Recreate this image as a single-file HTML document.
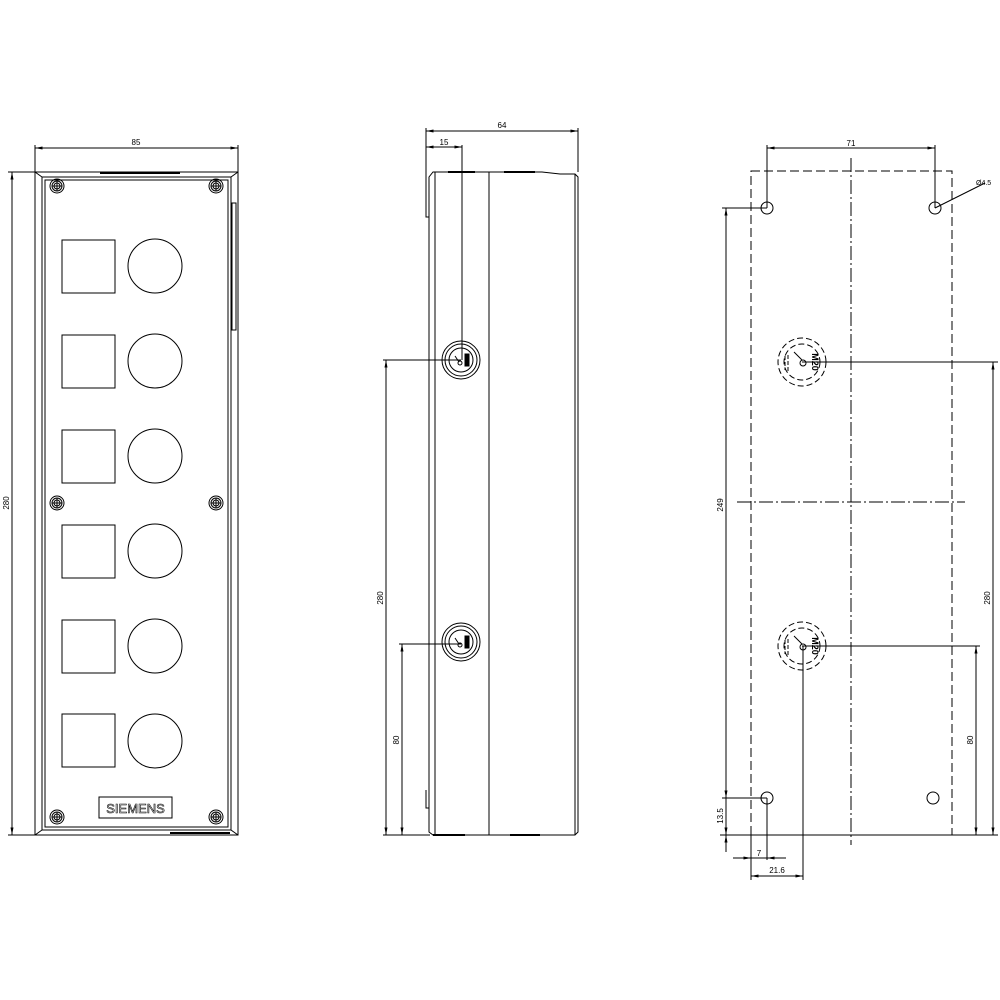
<!DOCTYPE html>
<html><head><meta charset="utf-8"><style>html,body{margin:0;padding:0;background:#fff}svg{display:block}</style></head><body>
<svg width="1000" height="1000" viewBox="0 0 1000 1000" xmlns="http://www.w3.org/2000/svg" font-family="Liberation Sans, sans-serif" font-size="8" fill="none" stroke="#000" stroke-width="1">
<defs>
<marker id="a" viewBox="0 0 10 4" refX="10" refY="2" markerWidth="8" markerHeight="3" orient="auto-start-reverse" markerUnits="userSpaceOnUse"><path d="M0 0L10 2L0 4Z" fill="#000" stroke="none"/></marker>
<g id="scr"><circle r="7"/><circle r="5"/><circle r="3"/><path d="M-5 0H5M0 -5V5"/></g>
<g id="gl"><circle r="19"/><circle r="16"/><circle r="12"/><path d="M-6 -4L-2 2"/><circle cx="-1" cy="3" r="2"/><rect x="4" y="-6" width="4" height="12" fill="#000"/></g>
<g id="gl2"><circle r="24" stroke-dasharray="6 3"/><circle r="18" stroke-dasharray="6 3"/><path d="M-8 -10L0 -2"/><circle cx="1" cy="1" r="3"/><path d="M-17 -6V8M-14 -7V9" stroke-dasharray="4 2"/></g>
</defs>
<!-- FRONT VIEW -->
<path d="M35 145V172M238 145V172"/>
<line x1="35" y1="148" x2="238" y2="148" marker-start="url(#a)" marker-end="url(#a)"/>
<text x="136" y="145" fill="#000" stroke="none" text-anchor="middle">85</text>
<path d="M8 172H35M8 835H35"/>
<line x1="12" y1="172" x2="12" y2="835" marker-start="url(#a)" marker-end="url(#a)"/>
<text transform="translate(9,503) rotate(-90)" fill="#000" stroke="none" text-anchor="middle">280</text>
<rect x="35" y="172" width="203" height="663"/>
<rect x="42" y="177" width="189" height="653"/>
<rect x="45" y="180" width="183" height="647"/>
<path d="M35 172L42 177M238 172L231 177M35 835L42 830M238 835L231 830"/>
<path d="M100 173H180" stroke-width="2"/>
<path d="M170 833H230" stroke-width="2"/>
<rect x="232" y="203" width="4" height="127"/>
<g>
<rect x="62" y="240" width="53" height="53"/><circle cx="155" cy="266" r="27"/>
<rect x="62" y="335" width="53" height="53"/><circle cx="155" cy="361" r="27"/>
<rect x="62" y="430" width="53" height="53"/><circle cx="155" cy="456" r="27"/>
<rect x="62" y="525" width="53" height="53"/><circle cx="155" cy="551" r="27"/>
<rect x="62" y="620" width="53" height="53"/><circle cx="155" cy="646" r="27"/>
<rect x="62" y="714" width="53" height="53"/><circle cx="155" cy="741" r="27"/>
</g>
<use href="#scr" x="57" y="186"/><use href="#scr" x="216" y="186"/>
<use href="#scr" x="57" y="503"/><use href="#scr" x="216" y="503"/>
<use href="#scr" x="57" y="817"/><use href="#scr" x="216" y="817"/>
<rect x="99" y="797" width="73" height="21"/>
<text x="135.5" y="813" fill="#fff" stroke="#000" stroke-width="0.6" font-size="13" text-anchor="middle">SIEMENS</text>
<!-- SIDE VIEW -->
<path d="M426 128V200M578 128V172M462 145V360"/>
<line x1="426" y1="131" x2="578" y2="131" marker-start="url(#a)" marker-end="url(#a)"/>
<text x="502" y="128" fill="#000" stroke="none" text-anchor="middle">64</text>
<line x1="426" y1="147" x2="462" y2="147" marker-start="url(#a)" marker-end="url(#a)"/>
<text x="444" y="145" fill="#000" stroke="none" text-anchor="middle">15</text>
<path d="M433 172H542L560 174H575L578 177V832L575 835H433L429 832V177Z"/>
<path d="M435 172V835M489 172V835M575 174V835"/>
<path d="M426 200V217H429M426 790V808H429"/>
<path d="M448 172H475M504 172H535M433 835H465M510 835H540" stroke-width="2"/>
<use href="#gl" x="461" y="360"/><use href="#gl" x="461" y="642"/>
<path d="M383 360H461M399 644H461M383 835H430"/>
<line x1="386" y1="360" x2="386" y2="835" marker-start="url(#a)" marker-end="url(#a)"/>
<text transform="translate(383,598) rotate(-90)" fill="#000" stroke="none" text-anchor="middle">280</text>
<line x1="402" y1="644" x2="402" y2="835" marker-start="url(#a)" marker-end="url(#a)"/>
<text transform="translate(399,740) rotate(-90)" fill="#000" stroke="none" text-anchor="middle">80</text>
<!-- REAR VIEW -->
<rect x="751" y="171" width="201" height="664" stroke-dasharray="9 4"/>
<path d="M851 158V845" stroke-dasharray="14 3 2 3"/>
<path d="M737 502H965" stroke-dasharray="14 3 2 3"/>
<circle cx="767" cy="208" r="6"/><circle cx="935" cy="208" r="6"/>
<circle cx="767" cy="798" r="6"/><circle cx="933" cy="798" r="6"/>
<use href="#gl2" x="802" y="362"/><use href="#gl2" x="802" y="646"/>
<text transform="translate(812,362) rotate(90)" fill="#000" stroke="none" font-size="9" font-weight="bold" text-anchor="middle">M20</text>
<text transform="translate(812,646) rotate(90)" fill="#000" stroke="none" font-size="9" font-weight="bold" text-anchor="middle">M20</text>
<path d="M767 145V208M935 145V208"/>
<line x1="767" y1="148" x2="935" y2="148" marker-start="url(#a)" marker-end="url(#a)"/>
<text x="851" y="146" fill="#000" stroke="none" text-anchor="middle">71</text>
<path d="M935 208L985 183"/>
<text x="976" y="185" fill="#000" stroke="none" font-size="7">Ø4.5</text>
<path d="M722 208H767M722 798H767M720 835H998M802 362H998M802 646H980"/>
<line x1="726" y1="208" x2="726" y2="835" marker-start="url(#a)" marker-end="url(#a)"/>
<text transform="translate(723,505) rotate(-90)" fill="#000" stroke="none" text-anchor="middle">249</text>
<line x1="993" y1="362" x2="993" y2="835" marker-start="url(#a)" marker-end="url(#a)"/>
<text transform="translate(990,598) rotate(-90)" fill="#000" stroke="none" text-anchor="middle">280</text>
<line x1="976" y1="646" x2="976" y2="835" marker-start="url(#a)" marker-end="url(#a)"/>
<text transform="translate(973,740) rotate(-90)" fill="#000" stroke="none" text-anchor="middle">80</text>
<path d="M726 798V775M726 835V852"/>
<line x1="726" y1="780" x2="726" y2="798" marker-end="url(#a)"/>
<line x1="726" y1="852" x2="726" y2="835" marker-end="url(#a)"/>
<text transform="translate(723,816) rotate(-90)" fill="#000" stroke="none" text-anchor="middle">13.5</text>
<path d="M767 798V860M803 646V880M751 835V880"/>
<path d="M733 858H786"/>
<line x1="740" y1="858" x2="751" y2="858" marker-end="url(#a)"/>
<line x1="778" y1="858" x2="767" y2="858" marker-end="url(#a)"/>
<text x="759" y="856" fill="#000" stroke="none" text-anchor="middle">7</text>
<line x1="751" y1="876" x2="803" y2="876" marker-start="url(#a)" marker-end="url(#a)"/>
<text x="777" y="873" fill="#000" stroke="none" text-anchor="middle">21.6</text>
</g>
</svg>
</body></html>
